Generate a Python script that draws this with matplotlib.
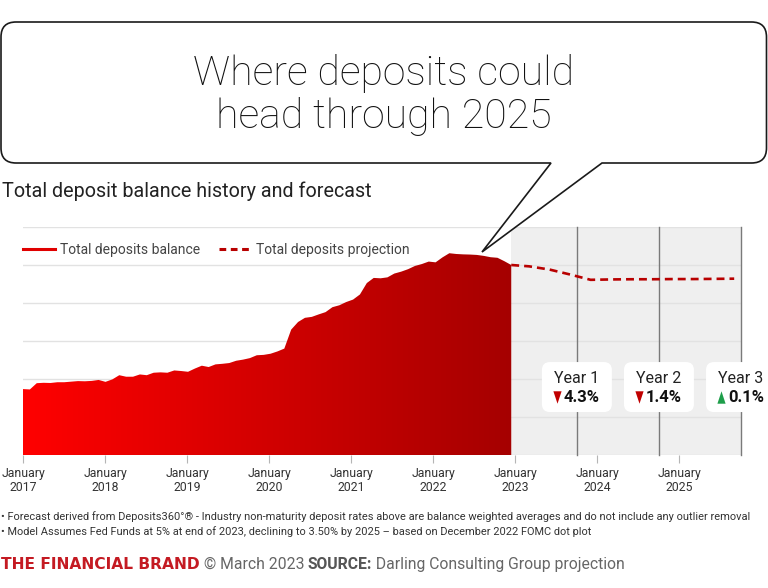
import matplotlib.pyplot as plt
import numpy as np
from matplotlib import font_manager
from matplotlib.colors import LinearSegmentedColormap
from matplotlib.lines import Line2D
from matplotlib.patches import FancyBboxPatch, PathPatch
from matplotlib.path import Path

# monthly total deposit balance, Jan 2017 - Dec 2022 ($ trillions)
hist_values = [11.47, 11.45, 11.78, 11.80, 11.79, 11.83, 11.83, 11.86, 11.89, 11.88, 11.90, 11.95,
               11.85, 11.98, 12.20, 12.12, 12.12, 12.24, 12.20, 12.33, 12.35, 12.33, 12.45, 12.42,
               12.38, 12.55, 12.70, 12.63, 12.77, 12.80, 12.84, 12.96, 13.02, 13.10, 13.25, 13.27,
               13.33, 13.45, 13.60, 14.60, 15.00, 15.22, 15.27, 15.40, 15.52, 15.78, 15.88, 16.05,
               16.18, 16.45, 17.05, 17.32, 17.30, 17.35, 17.55, 17.65, 17.78, 17.95, 18.05, 18.18,
               18.14, 18.40, 18.62, 18.58, 18.56, 18.55, 18.53, 18.48, 18.41, 18.38, 18.20, 18.00]
hist_start = 2017

# quarterly projection
proj_dates = [2022.95, 2023.167, 2023.417, 2023.667, 2023.917, 2024.167, 2024.417,
              2024.667, 2024.917, 2025.167, 2025.417, 2025.667]
proj_values = [18.00, 17.93, 17.76, 17.50, 17.22, 17.24, 17.25, 17.25, 17.26, 17.26, 17.27, 17.28]

year_labels = ['Year 1', 'Year 2', 'Year 3']
year_changes = ['4.3%', '1.4%', '0.1%']
year_up = [False, False, True]
year_marks = [2023.75, 2024.75, 2025.75]
tick_years = list(range(2017, 2026))

names = {f.name for f in font_manager.fontManager.ttflist}
main_font = ['Roboto', 'DejaVu Sans']
narrow_font = ['Liberation Sans Narrow', 'Roboto', 'DejaVu Sans'] if 'Liberation Sans Narrow' in names else ['Roboto', 'DejaVu Sans']
plt.rcParams['font.family'] = main_font

# spread the monthly points over Jan 2017 .. mid-Dec 2022
hist_dates = hist_start + np.arange(len(hist_values)) * (5.95 / (len(hist_values) - 1))

fig = plt.figure(figsize=(7.68, 5.88), dpi=100)
ax = fig.add_axes([23 / 768, 1 - 455 / 588, 718 / 768, 228 / 588])

# forecast shading and vertical year markers
ax.axvspan(hist_dates[-1], 2025.75, color='#efefef', lw=0, zorder=0.2)
for x in year_marks:
    ax.axvline(x, color='#7a7a7a', lw=1, zorder=1, clip_on=False)

# gradient filled history
poly = ax.fill_between(hist_dates, 8, hist_values, color='none', lw=0)
cmap = LinearSegmentedColormap.from_list('reds', ['#ff0000', '#a50000'])
grad = ax.imshow(np.linspace(0, 1, 256)[None, :], cmap=cmap, aspect='auto',
                 extent=[hist_dates[0], hist_dates[-1], 8, 20], zorder=2)
grad.set_clip_path(poly.get_paths()[0], transform=ax.transData)

ax.plot(proj_dates, proj_values, color='#b80000', lw=1.9, dashes=(3, 1.9), zorder=3)

ax.set_xlim(2017, 2025.75)
ax.set_ylim(8, 20)
ax.set_yticks(range(8, 21, 2))
ax.yaxis.grid(True, color='#e2e2e2', lw=1)
ax.set_axisbelow(True)
ax.tick_params(axis='y', left=False, labelleft=False)
ax.set_xticks(tick_years)
ax.set_xticklabels([f'January\n{y}' for y in tick_years], fontsize=8.8, color='#333333',
                   family=narrow_font, linespacing=1.05)
ax.tick_params(axis='x', length=6, color='#b5b5b5', pad=3)
for s in ax.spines.values():
    s.set_visible(False)

handles = [Line2D([], [], color='#e00000', lw=2.2),
           Line2D([], [], color='#b80000', lw=2.2, dashes=(2.2, 1.5))]
ax.legend(handles, ['Total deposits balance', 'Total deposits projection'], loc='center left',
          bbox_to_anchor=(0, (455 - 250) / 228), ncol=2, frameon=False, fontsize=10,
          handlelength=2.3, handletextpad=0.35, columnspacing=1.4, borderaxespad=0,
          borderpad=0, labelcolor='#444444')

# year change boxes
px_x = 1 / 82.1
px_y = 2 / 38
for x, lab, chg, up in zip(year_marks, year_labels, year_changes, year_up):
    box = FancyBboxPatch((x - 35 * px_x, 10.26), 70 * px_x, 50 * px_y,
                         boxstyle=f'round,pad=0,rounding_size={8 * px_x}',
                         mutation_aspect=px_y / px_x, fc='white', ec='none',
                         zorder=4, clip_on=False)
    ax.add_patch(box)
    ax.text(x, 12.05, lab, ha='center', va='center', fontsize=11.5, color='#222222',
            zorder=5, clip_on=False)
    tri = [(-0.33, -0.5), (0.33, -0.5), (0, 0.5)] if up else [(-0.33, 0.5), (0.33, 0.5), (0, -0.5)]
    ax.scatter([x - 20 * px_x], [11.05], marker=tri, s=80, lw=0,
               color='#1e9e4a' if up else '#c00000', zorder=5, clip_on=False)
    ax.text(x - 13 * px_x, 11.05, chg, ha='left', va='center', fontsize=12,
            fontweight='bold', color='#111111', zorder=5, clip_on=False)

# overlay in pixel coordinates for the speech bubble and text
ov = fig.add_axes([0, 0, 1, 1], zorder=10)
ov.set_xlim(0, 768)
ov.set_ylim(588, 0)
ov.axis('off')
ov.patch.set_visible(False)

r = 15
L, R, T, B = 1.0, 766.5, 22, 163
verts = [(L + r, T), (R - r, T), (R, T), (R, T + r), (R, B - r), (R, B), (R - r, B),
         (602, B), (482, 252), (551, B), (L + r, B), (L, B), (L, B - r), (L, T + r),
         (L, T), (L + r, T), (L + r, T)]
codes = [Path.MOVETO, Path.LINETO, Path.CURVE3, Path.CURVE3, Path.LINETO, Path.CURVE3,
         Path.CURVE3, Path.LINETO, Path.LINETO, Path.LINETO, Path.LINETO, Path.CURVE3,
         Path.CURVE3, Path.LINETO, Path.CURVE3, Path.CURVE3, Path.CLOSEPOLY]
ov.add_patch(PathPatch(Path(verts, codes), fc='white', ec='#1a1a1a', lw=1.2))

ov.text(384, 85, 'Where deposits could', ha='center', va='baseline', fontsize=29.5,
        fontweight='light', color='#111111')
ov.text(384, 128, 'head through 2025', ha='center', va='baseline', fontsize=29.5,
        fontweight='light', color='#111111')
ov.text(2, 197, 'Total deposit balance history and forecast', ha='left', va='baseline',
        fontsize=14.2, color='#222222')

ov.text(1, 520, '• Forecast derived from Deposits360°® - Industry non-maturity deposit rates above '
        'are balance weighted averages and do not include any outlier removal',
        ha='left', va='baseline', fontsize=7.95, color='#333333', family=narrow_font)
ov.text(1, 535, '• Model Assumes Fed Funds at 5% at end of 2023, declining to 3.50% by 2025 '
        '– based on December 2022 FOMC dot plot',
        ha='left', va='baseline', fontsize=7.95, color='#333333', family=narrow_font)

# footer line, pieces placed one after another
renderer = fig.canvas.get_renderer()
pieces = [('THE FINANCIAL BRAND', '#c41a22', 'bold', ['DejaVu Sans'], 11.2),
          (' © March 2023 ', '#666666', 'normal', main_font, 11.3),
          ('SOURCE:', '#555555', 'bold', main_font, 11.3),
          (' Darling Consulting Group projection', '#666666', 'normal', main_font, 11.3)]
xpos = 1
for txt, col, wt, fam, fs in pieces:
    t = ov.text(xpos, 569, txt, ha='left', va='baseline', fontsize=fs, color=col,
                fontweight=wt, family=fam)
    bb = t.get_window_extent(renderer)
    xpos += bb.width

fig.savefig('out.png', dpi=100)
